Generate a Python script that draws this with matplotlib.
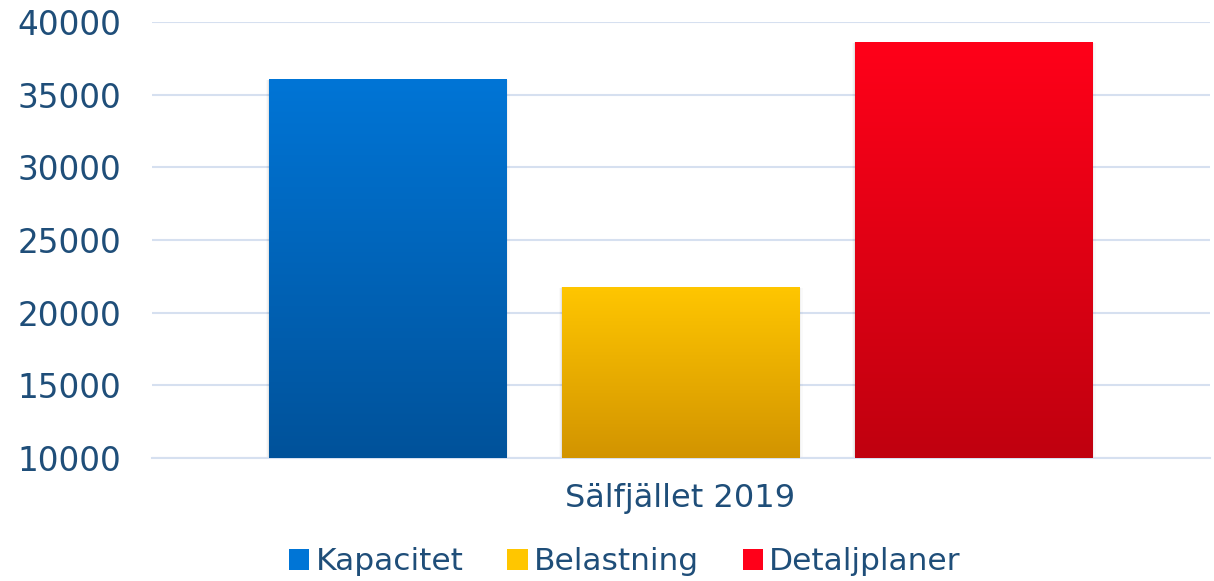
import matplotlib.pyplot as plt
import numpy as np
from matplotlib.colors import LinearSegmentedColormap
from matplotlib.patches import Patch

series = ["Kapacitet", "Belastning", "Detaljplaner"]
values = [36050, 21750, 38600]
category = "Sälfjället 2019"
top_colors = ["#0075D6", "#FFC600", "#FF0019"]
bottom_colors = ["#00529A", "#D29400", "#C0000F"]

text_col = "#1F4E79"
grid_col = "#D6E0F0"

fig = plt.figure(figsize=(12.14, 5.81), dpi=100)
ax = fig.add_axes([152 / 1214, 1 - 458 / 581, (1210 - 152) / 1214, (458 - 22) / 581])

x = np.arange(len(series))
width = 0.809
bars = ax.bar(x, np.array(values) - 10000, width, bottom=10000, color="none", zorder=3)

grad = np.linspace(1, 0, 256).reshape(-1, 1)
for b, c_top, c_bot in zip(bars, top_colors, bottom_colors):
    cmap = LinearSegmentedColormap.from_list("g", [c_bot, c_top])
    x0, y0 = b.get_x(), b.get_y()
    w, h = b.get_width(), b.get_height()
    # soft shadow
    for k, a in enumerate([0.05, 0.035, 0.02]):
        d = 0.004 * (k + 1)
        ax.add_patch(plt.Rectangle((x0 - d, y0 - 50 * (k + 1)), w + 2 * d, h + 40 * (k + 1),
                                   facecolor="black", alpha=a, edgecolor="none", zorder=2))
    im = ax.imshow(grad, cmap=cmap, aspect="auto", extent=[x0, x0 + w, y0, y0 + h],
                   zorder=3)
    im.set_clip_path(b)

ax.set_xlim(-0.804, 2.807)
ax.set_ylim(10000, 40000)
ax.set_yticks(np.arange(10000, 40001, 5000))
ax.yaxis.grid(True, color=grid_col, linewidth=1.5)
ax.set_axisbelow(True)
for s in ["top", "right", "left"]:
    ax.spines[s].set_visible(False)
ax.spines["bottom"].set_color(grid_col)
ax.spines["bottom"].set_linewidth(1.5)
ax.tick_params(axis="y", length=0, pad=22, labelsize=23.5, labelcolor=text_col)
ax.set_xticks([1])
ax.set_xticklabels([category])
ax.tick_params(axis="x", length=0, pad=18, labelsize=23, labelcolor=text_col)

handles = [Patch(facecolor=c, edgecolor="none") for c in top_colors]
fig.legend(handles, series, loc="center", bbox_to_anchor=(625 / 1214, 1 - 562 / 581),
           ncol=3, frameon=False, fontsize=22.5, labelcolor=text_col,
           handlelength=0.65, handleheight=0.65, handletextpad=0.2, columnspacing=1.4)

fig.savefig("out.png", dpi=100)
